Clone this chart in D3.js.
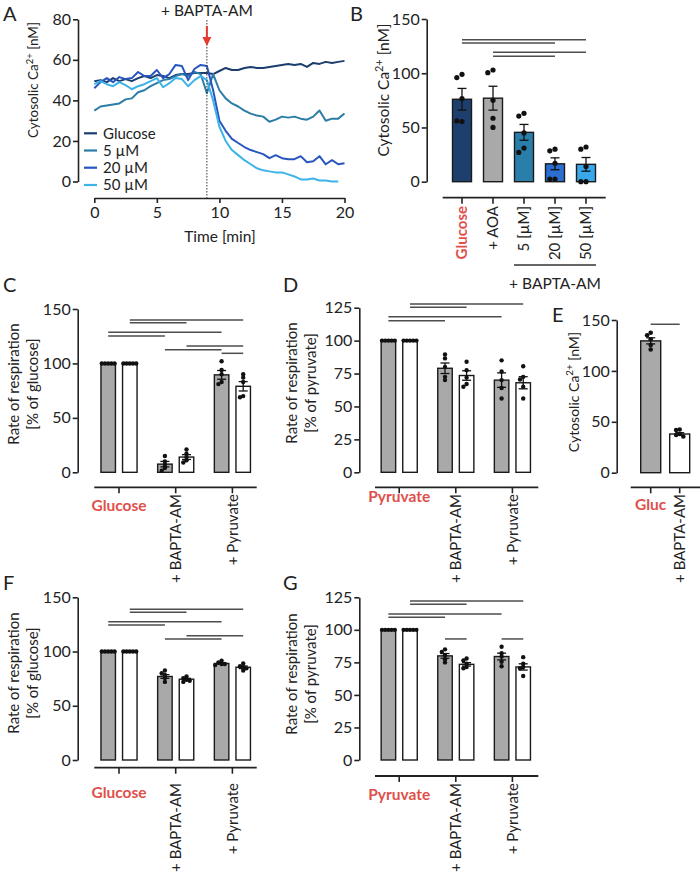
<!DOCTYPE html>
<html>
<head>
<meta charset="utf-8">
<title>Cytosolic Ca2+ and respiration</title>
<script src="https://d3js.org/d3.v7.min.js"></script>
<style>
  body { margin: 0; background: #fff; }
  svg text { font-family: Lato, "Open Sans", sans-serif; }
</style>
</head>
<body>
<svg id="fig" width="700" height="877" fill="#222"></svg>
<script>
// ---------- Panel A: Ca2+ traces ----------
var timeA = [0, 0.5, 1, 1.5, 2, 2.5, 3, 3.5, 4, 4.5, 5, 5.5, 6, 6.5, 7, 7.5, 8, 8.5, 9, 9.5,
             10, 10.5, 11, 11.5, 12, 12.5, 13, 13.5, 14, 14.5, 15, 15.5, 16, 16.5, 17, 17.5, 18, 18.5, 19, 19.5, 20];
var glucoseA = [49.5, 50, 49, 51, 49.5, 50.5, 49.5, 51, 52, 51, 52.5, 52, 51, 52.5, 53, 53, 53.5, 53.5, 53.5, 53,
                54.5, 56, 55, 55, 56, 56.5, 56, 56, 56.5, 57, 57.5, 58, 57.5, 58, 56.5, 58.5, 58, 59, 58.5, 59, 59.5];
var bapta5A = [35, 37, 37.5, 38, 38.5, 40.5, 41, 44, 45, 47, 48.5, 50, 50.5, 52, 53, 52, 54, 53, 43.5, 53,
               45, 41, 38.5, 37, 35, 33.5, 32.5, 32, 29.5, 30.5, 32, 31.5, 32, 31, 30.5, 32, 35, 30, 31, 31, 33.5];
var bapta20A = [46, 49, 51, 49, 51.5, 50.5, 51, 54, 52, 52, 55, 51, 53, 57.5, 57, 50, 55.5, 57.5, 57, 45,
                30, 25, 21, 19, 17, 15.5, 14.5, 13.5, 11.5, 13, 11.5, 11, 11, 12.5, 9.5, 10, 12.5, 8.5, 10.5, 8.5, 9];
var bapta50A = [48, 49.5, 48, 47, 49, 47.5, 45.5, 47, 48, 49.5, 51, 46.5, 48.5, 51, 50.5, 47, 50, 52, 50, 40,
                27, 20, 15.5, 13, 10.5, 8.5, 6.5, 5.5, 5, 4.5, 4.5, 3.5, 2.5, 1, 1, 1.5, 0.5, 0.5, 0, 0];
var seriesNamesA = ["Glucose", "5 µM", "20 µM", "50 µM"];
var xTicksA = [0, 5, 10, 15, 20];
var yTicksA = [0, 20, 40, 60, 80];
var additionTimeA = 9;

// ---------- Panel B: Ca2+ bars ----------
var catsB = ["Glucose", "+ AOA", "5 [µM]", "20 [µM]", "50 [µM]"];
var meanB = [76, 77, 45.5, 16.5, 16];
var semB = [10, 11, 7.3, 5.5, 6.3];
var dotsB = [[99, 96, 76.5, 55.5, 56], [103, 100.5, 75, 58.5, 50], [63, 60.5, 45, 31, 27],
             [30, 28.5, 17, 2.5, 2.5], [32, 30, 14, 0, 0]];
var sigB = [[0, 4, 130.9], [0, 3, 127.9], [1, 4, 119.3], [1, 3, 115.6]];

// ---------- Panel C ----------
var groupsC = ["Glucose", "+ BAPTA-AM", "+ Pyruvate"];
var grayMeanC = [100, 7.5, 89.5];
var whiteMeanC = [100, 14, 79];
var graySemC = [0, 2.5, 4];
var whiteSemC = [0, 2.2, 4.3];
var grayDotsC = [[100, 100, 100, 100, 100], [15, 10, 7, 4, 1.5], [102, 94, 90, 83, 81]];
var whiteDotsC = [[100, 100, 100, 100, 100], [21, 17, 14, 11, 9], [90, 87, 83, 70, 69]];
var sigC = [[1, 5, 140], [1, 3, 137.4], [0, 4, 128.6], [0, 2, 125.2], [3, 5, 116], [2, 4, 112.6], [4, 5, 109.3]];

// ---------- Panel D ----------
var groupsD = ["Pyruvate", "+ BAPTA-AM", "+ Pyruvate"];
var grayMeanD = [100, 79, 70];
var whiteMeanD = [100, 73.5, 68];
var graySemD = [0, 4, 5.5];
var whiteSemD = [0, 3.6, 4.6];
var grayDotsD = [[100, 100, 100, 100, 100], [89.5, 86.5, 80, 72.5, 70], [85, 76.5, 70, 64, 56]];
var whiteDotsD = [[100, 100, 100, 100, 100], [84, 77.5, 72, 67, 65], [80.5, 72.5, 70.5, 65, 56]];
var sigD = [[1, 5, 127.8], [1, 3, 125.3], [0, 4, 118.1], [0, 2, 115.1]];

// ---------- Panel E ----------
var catsE = ["Gluc", "+ BAPTA-AM"];
var meanE = [129.5, 38];
var semE = [3, 1.3];
var dotsE = [[137.5, 135, 131, 125.5, 121], [42.5, 42, 38, 37, 35.5]];
var sigE = [[0, 1, 145.8]];

// ---------- Panel F ----------
var groupsF = ["Glucose", "+ BAPTA-AM", "+ Pyruvate"];
var grayMeanF = [100, 77, 89];
var whiteMeanF = [100, 74.5, 85.5];
var graySemF = [0, 1.7, 0.6];
var whiteSemF = [0, 0.8, 1.2];
var grayDotsF = [[100, 100, 100, 100, 100], [82.5, 80, 78.5, 75.5, 72], [91.5, 90, 88.5, 88.5, 87.5]];
var whiteDotsF = [[100, 100, 100, 100, 100], [77, 75.5, 74, 73, 72], [89, 86.5, 85.5, 84.5, 82.5]];
var sigF = [[1, 5, 138.9], [1, 3, 136.2], [0, 4, 127.5], [0, 2, 124.5], [3, 5, 114.6], [2, 4, 111.6]];

// ---------- Panel G ----------
var groupsG = ["Pyruvate", "+ BAPTA-AM", "+ Pyruvate"];
var grayMeanG = [100, 80, 79.5];
var whiteMeanG = [100, 73.5, 71.5];
var graySemG = [0, 1.8, 2.6];
var whiteSemG = [0, 1.3, 2.4];
var grayDotsG = [[100, 100, 100, 100, 100], [85, 83, 80.5, 77.5, 75], [87, 82, 79.5, 75.5, 72]];
var whiteDotsG = [[100, 100, 100, 100, 100], [78, 76.5, 74, 71.5, 70.5], [79, 74, 71.5, 70.5, 64.5]];
var sigG = [[1, 5, 122.2], [1, 3, 119.6], [0, 4, 112.2], [0, 2, 109.6], [2, 3, 93], [4, 5, 93]];

var ticks150 = [0, 50, 100, 150];
var ticks125 = [0, 25, 50, 75, 100, 125];

// ---------- styling ----------
var FONT = "Lato, 'Open Sans', sans-serif";
var INK = "#222";
var RED = "#e0504b";
var SIG = "#4d4d4d";
var GRAY = "#a9a9a9";
var lineColors = ["#1d3d6e", "#2b7da8", "#2756bf", "#3db3e8"];
var barColorsB = ["#1d3f6e", "#a9a9a9", "#2a7eaa", "#2a6fd0", "#38a8ea"];

var svg = d3.select("#fig");

function styleAxis(g) {
  g.attr("font-family", FONT).attr("font-size", 16);
  g.select(".domain").attr("stroke", INK).attr("stroke-width", 1.6);
  g.selectAll(".tick line").attr("stroke", INK).attr("stroke-width", 1.6);
  g.selectAll(".tick text").attr("fill", INK);
}

function panelLetter(letter, x, y) {
  svg.append("text").attr("x", x).attr("y", y).attr("font-size", 20).text(letter);
}

// rotated y label built from parts (superscript supported)
function yLabel(x, cy, size, parts) {
  var t = svg.append("text")
    .attr("transform", "translate(" + x + "," + cy + ") rotate(-90)")
    .attr("text-anchor", "middle").attr("font-size", size);
  parts.forEach(function(p) {
    var s = t.append("tspan").text(p.t);
    if (p.sup) s.attr("font-size", size * 0.7).attr("dy", -size * 0.4);
    if (p.down) s.attr("dy", size * 0.4);
  });
}
function caLabel(x, cy, size) {
  yLabel(x, cy, size, [{t: "Cytosolic Ca"}, {t: "2+", sup: true}, {t: " [nM]", down: true}]);
}

// simple beeswarm: place dots at the bar centre, shift sideways when they overlap
function swarm(vals, cx, y, step) {
  var placed = [];
  var offs = [0, -1, 1, -2, 2, -3, 3];
  return vals.map(function(v) {
    var py = y(v);
    for (var k = 0; k < offs.length; k++) {
      var px = cx + offs[k] * step;
      var ok = placed.every(function(p) { return Math.hypot(p[0] - px, p[1] - py) >= step * 0.99; });
      if (ok) { placed.push([px, py]); return [px, py]; }
    }
    return [cx, py];
  });
}

function drawBars(g, y, xs, means, sems, dots, fills, barW, dotR, step) {
  var y0 = y(0);
  g.selectAll("rect.bar").data(means).enter().append("rect")
    .attr("x", function(d, i) { return xs[i] - barW / 2; })
    .attr("y", function(d) { return y(d); })
    .attr("width", barW)
    .attr("height", function(d) { return y0 - y(d); })
    .attr("fill", function(d, i) { return fills[i]; })
    .attr("stroke", "#1a1a1a").attr("stroke-width", 1.4);
  // error bars
  means.forEach(function(m, i) {
    if (!sems[i]) return;
    var cx = xs[i], top = y(m + sems[i]), bot = y(m - sems[i]);
    g.append("line").attr("x1", cx).attr("x2", cx).attr("y1", top).attr("y2", bot)
      .attr("stroke", "#111").attr("stroke-width", 1.3);
    [top, bot].forEach(function(yy) {
      g.append("line").attr("x1", cx - 4.5).attr("x2", cx + 4.5).attr("y1", yy).attr("y2", yy)
        .attr("stroke", "#111").attr("stroke-width", 1.3);
    });
  });
  // individual points
  dots.forEach(function(vals, i) {
    swarm(vals, xs[i], y, step).forEach(function(p) {
      g.append("circle").attr("cx", p[0]).attr("cy", p[1]).attr("r", dotR).attr("fill", "#111");
    });
  });
}

function drawSig(g, y, xs, sig) {
  sig.forEach(function(s) {
    g.append("line").attr("x1", xs[s[0]]).attr("x2", xs[s[1]])
      .attr("y1", y(s[2])).attr("y2", y(s[2]))
      .attr("stroke", SIG).attr("stroke-width", 1.5);
  });
}

function yAxis(g, y, x, ticks) {
  g.append("g").attr("transform", "translate(" + x + ",0)")
    .call(d3.axisLeft(y).tickValues(ticks).tickSize(5).tickSizeOuter(0).tickPadding(2))
    .call(styleAxis);
}

function xAxisLine(g, yy, x1, x2, tickXs) {
  g.append("line").attr("x1", x1).attr("x2", x2).attr("y1", yy).attr("y2", yy)
    .attr("stroke", INK).attr("stroke-width", 1.8);
  tickXs.forEach(function(tx) {
    g.append("line").attr("x1", tx).attr("x2", tx).attr("y1", yy).attr("y2", yy + 6)
      .attr("stroke", INK).attr("stroke-width", 1.6);
  });
}

function rotLabel(g, x, y0, text, red) {
  var t = g.append("text")
    .attr("transform", "translate(" + x + "," + y0 + ") rotate(-90)")
    .attr("text-anchor", "end").attr("dy", "0.36em").attr("font-size", 15).text(text);
  if (red) t.attr("fill", RED).attr("font-weight", "bold");
}

// ================= Panel A =================
(function() {
  var g = svg.append("g");
  var x = d3.scaleLinear().domain([0, 20]).range([94.3, 344.5]);
  var y = d3.scaleLinear().domain([0, 80]).range([181.5, 19.3]);
  g.append("g").attr("transform", "translate(78,0)")
    .call(d3.axisLeft(y).tickValues(yTicksA).tickSize(5).tickSizeOuter(0).tickPadding(2))
    .call(styleAxis);
  g.append("g").attr("transform", "translate(0,198)")
    .call(d3.axisBottom(x).tickValues(xTicksA).tickSize(5).tickSizeOuter(0).tickPadding(4))
    .call(styleAxis);

  var series = [glucoseA, bapta5A, bapta20A, bapta50A];
  var line = d3.line()
    .x(function(d, i) { return x(timeA[i]); })
    .y(function(d) { return y(d); });
  series.forEach(function(s, k) {
    g.append("path").datum(s).attr("d", line).attr("fill", "none")
      .attr("stroke", lineColors[k]).attr("stroke-width", 2)
      .attr("stroke-linejoin", "round");
  });

  // addition marker
  var xm = x(additionTimeA);
  g.append("line").attr("x1", xm).attr("x2", xm).attr("y1", 20).attr("y2", 198)
    .attr("stroke", "#333").attr("stroke-width", 1).attr("stroke-dasharray", "1.5,1.5");
  g.append("line").attr("x1", xm).attr("x2", xm).attr("y1", 26).attr("y2", 39)
    .attr("stroke", "#e53a2f").attr("stroke-width", 2);
  g.append("path").attr("d", "M" + (xm - 4.5) + ",37L" + (xm + 4.5) + ",37L" + xm + ",46Z")
    .attr("fill", "#e53a2f");
  g.append("text").attr("x", xm).attr("y", 16).attr("text-anchor", "middle")
    .attr("font-size", 15.5).text("+ BAPTA-AM");

  // legend
  var legY = [133.3, 150.5, 167.7, 185];
  seriesNamesA.forEach(function(n, k) {
    g.append("line").attr("x1", 84).attr("x2", 97).attr("y1", legY[k]).attr("y2", legY[k])
      .attr("stroke", lineColors[k]).attr("stroke-width", 2.2);
    g.append("text").attr("x", 103).attr("y", legY[k]).attr("dy", "0.35em")
      .attr("font-size", 15).text(n);
  });

  g.append("text").attr("x", 220).attr("y", 242).attr("text-anchor", "middle")
    .attr("font-size", 15.5).text("Time [min]");
  caLabel(38, 80, 13.5);
  panelLetter("A", 3, 21);
})();

// ================= Panel B =================
(function() {
  var g = svg.append("g");
  var y = d3.scaleLinear().domain([0, 150]).range([181.7, 19]);
  var xp = d3.scalePoint().domain(catsB).range([462, 586]);
  var xs = catsB.map(function(c) { return xp(c); });
  yAxis(g, y, 426.7, ticks150);
  drawBars(g, y, xs, meanB, semB, dotsB, barColorsB, 19, 2.6, 5.2);
  drawSig(g, y, xs, sigB);
  xAxisLine(g, 197.7, 442.7, 605.7, xs);
  catsB.forEach(function(c, i) { rotLabel(g, xs[i], 206, c, i === 0); });
  g.append("line").attr("x1", 514).attr("x2", 596).attr("y1", 265).attr("y2", 265)
    .attr("stroke", "#333").attr("stroke-width", 1.3);
  g.append("text").attr("x", 555).attr("y", 289).attr("text-anchor", "middle")
    .attr("font-size", 15.5).text("+ BAPTA-AM");
  caLabel(389, 90, 15.5);
  panelLetter("B", 350, 21);
})();

// ============ Panels C, D, F, G (paired bars) ============
function pairedPanel(p) {
  var g = svg.append("g");
  var y = d3.scaleLinear().domain([0, p.max]).range([p.y0, p.yTop]);
  var xg = d3.scalePoint().domain(p.groups).range(p.groupRange);
  var sub = d3.scalePoint().domain(["gray", "white"]).range([-10.8, 10.8]);
  var xs = [], means = [], sems = [], dots = [], fills = [];
  p.groups.forEach(function(gr, i) {
    xs.push(xg(gr) + sub("gray"), xg(gr) + sub("white"));
    means.push(p.grayMean[i], p.whiteMean[i]);
    sems.push(p.graySem[i], p.whiteSem[i]);
    dots.push(p.grayDots[i], p.whiteDots[i]);
    fills.push(GRAY, "#fff");
  });
  yAxis(g, y, p.axisX, p.ticks);
  drawBars(g, y, xs, means, sems, dots, fills, 14.5, 2.2, 3.2);
  drawSig(g, y, xs, p.sig);
  var tx = p.groups.map(function(gr) { return xg(gr); });
  xAxisLine(g, p.xAxisY, p.xAxisRange[0], p.xAxisRange[1], tx);
  g.append("text").attr("x", tx[0]).attr("y", p.mainLabelY).attr("text-anchor", "middle")
    .attr("font-size", 15.5).attr("font-weight", "bold").attr("fill", RED).text(p.groups[0]);
  for (var i = 1; i < p.groups.length; i++) rotLabel(g, tx[i], p.rotLabelY, p.groups[i], false);
  yLabel(p.labelX[0], p.labelCy, 15, [{t: "Rate of respiration"}]);
  yLabel(p.labelX[1], p.labelCy, 15, [{t: p.unitLabel}]);
  panelLetter(p.letter, p.letterXY[0], p.letterXY[1]);
}

pairedPanel({letter: "C", letterXY: [3, 292], groups: groupsC, grayMean: grayMeanC, whiteMean: whiteMeanC,
  graySem: graySemC, whiteSem: whiteSemC, grayDots: grayDotsC, whiteDots: whiteDotsC, sig: sigC,
  max: 150, ticks: ticks150, y0: 472.3, yTop: 309, axisX: 77.7, groupRange: [119, 232.4],
  xAxisY: 487.3, xAxisRange: [94.3, 256.7], mainLabelY: 511, rotLabelY: 494,
  labelX: [19, 38], labelCy: 384, unitLabel: "[% of glucose]"});

pairedPanel({letter: "D", letterXY: [283, 292], groups: groupsD, grayMean: grayMeanD, whiteMean: whiteMeanD,
  graySem: graySemD, whiteSem: whiteSemD, grayDots: grayDotsD, whiteDots: whiteDotsD, sig: sigD,
  max: 125, ticks: ticks125, y0: 472.3, yTop: 307.7, axisX: 359.3, groupRange: [399.2, 512.4],
  xAxisY: 487.3, xAxisRange: [375, 538.3], mainLabelY: 502, rotLabelY: 494,
  labelX: [297, 316], labelCy: 383, unitLabel: "[% of pyruvate]"});

pairedPanel({letter: "F", letterXY: [3, 590], groups: groupsF, grayMean: grayMeanF, whiteMean: whiteMeanF,
  graySem: graySemF, whiteSem: whiteSemF, grayDots: grayDotsF, whiteDots: whiteDotsF, sig: sigF,
  max: 150, ticks: ticks150, y0: 760, yTop: 597.3, axisX: 77.7, groupRange: [119, 232.4],
  xAxisY: 767.7, xAxisRange: [94.3, 256.7], mainLabelY: 798, rotLabelY: 783,
  labelX: [19, 38], labelCy: 673, unitLabel: "[% of glucose]"});

pairedPanel({letter: "G", letterXY: [283, 590], groups: groupsG, grayMean: grayMeanG, whiteMean: whiteMeanG,
  graySem: graySemG, whiteSem: whiteSemG, grayDots: grayDotsG, whiteDots: whiteDotsG, sig: sigG,
  max: 125, ticks: ticks125, y0: 760, yTop: 597.3, axisX: 359.3, groupRange: [399.2, 512.4],
  xAxisY: 776, xAxisRange: [375, 538.3], mainLabelY: 800, rotLabelY: 783,
  labelX: [297, 316], labelCy: 674, unitLabel: "[% of pyruvate]"});

// ================= Panel E =================
(function() {
  var g = svg.append("g");
  var y = d3.scaleLinear().domain([0, 150]).range([472.7, 320]);
  var xp = d3.scalePoint().domain(catsE).range([650.7, 679.7]);
  var xs = catsE.map(function(c) { return xp(c); });
  yAxis(g, y, 616.7, ticks150);
  drawBars(g, y, xs, meanE, semE, dotsE, [GRAY, "#fff"], 20, 2.3, 3.6);
  drawSig(g, y, xs, sigE);
  xAxisLine(g, 487.3, 630.7, 700, xs);
  g.append("text").attr("x", xs[0]).attr("y", 510).attr("text-anchor", "middle")
    .attr("font-size", 15.5).attr("font-weight", "bold").attr("fill", RED).text(catsE[0]);
  rotLabel(g, xs[1], 494, catsE[1], false);
  caLabel(579, 392, 14);
  panelLetter("E", 552, 322);
})();
</script>
</body>
</html>
